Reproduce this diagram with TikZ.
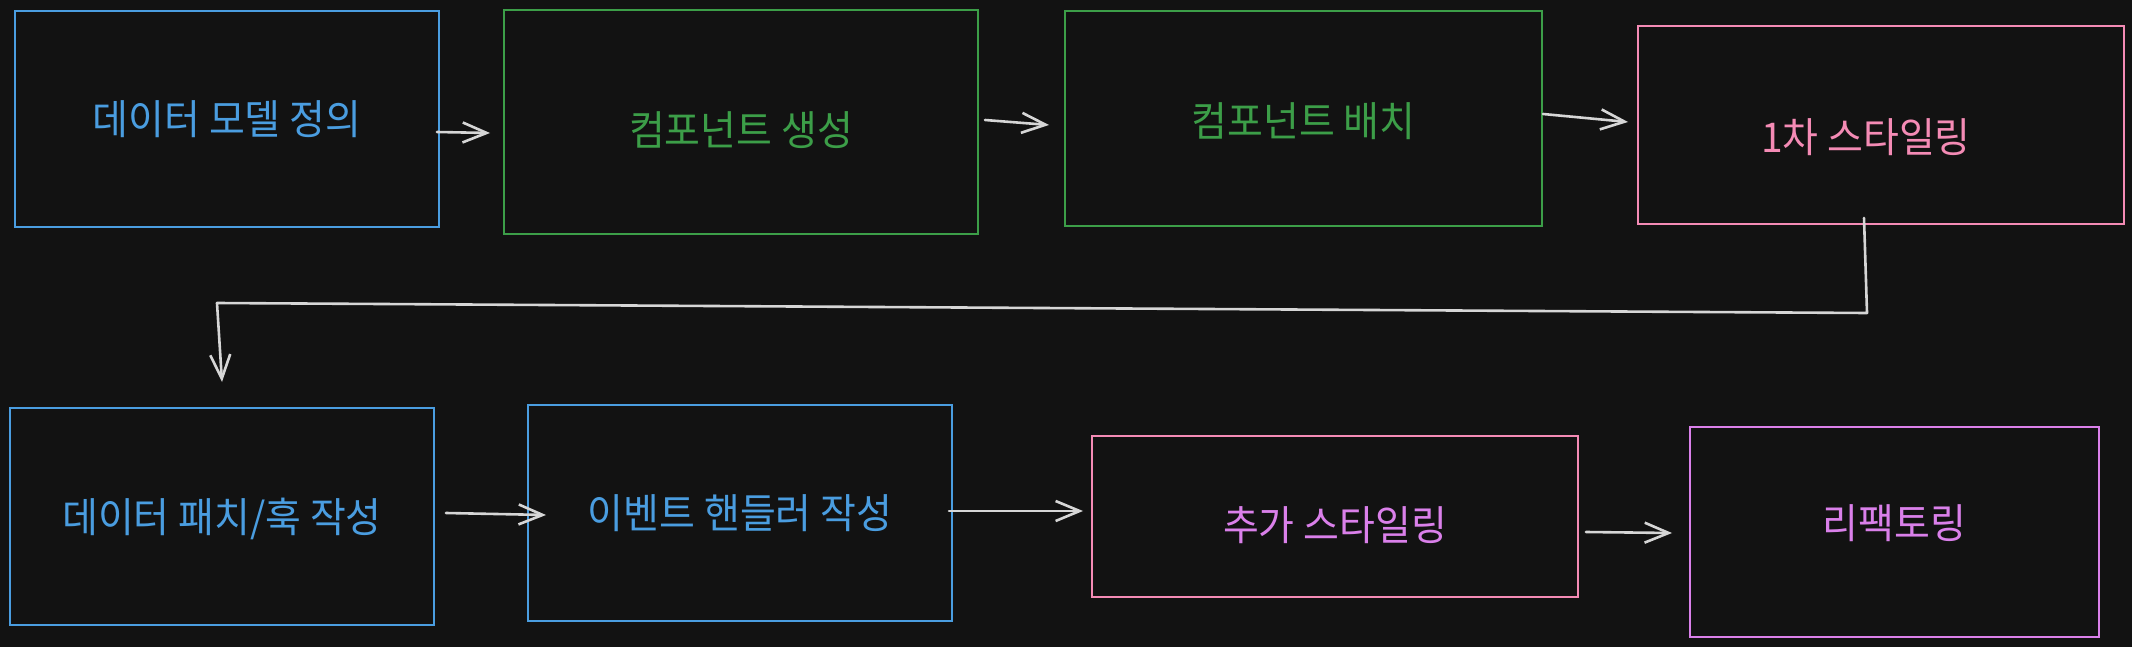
\documentclass[tikz,border=0pt]{standalone}
\usepackage{fontspec}
\setmainfont{Noto Sans CJK KR}[FakeStretch=0.95]
\usetikzlibrary{arrows.meta}
\definecolor{bg}{HTML}{121212}
\definecolor{blueline}{HTML}{4A9DE0}
\definecolor{greenline}{HTML}{3C9E48}
\definecolor{pinkline}{HTML}{F48BB5}
\definecolor{violetline}{HTML}{DA80EA}
\definecolor{arrowline}{HTML}{D6D6D6}
\tikzset{every node/.style={rectangle,align=center,draw,line width=2pt,inner sep=0pt,text height=36pt,text depth=5pt,font=\fontsize{41}{48}\selectfont}}
\tikzset{arr/.style={draw=arrowline,line width=2.6pt,line cap=round,line join=round,-{Straight Barb[length=24pt,width=20pt,line width=2.6pt]}}}
\tikzset{bl/.style={draw=blueline,text=blueline}}
\tikzset{gr/.style={draw=greenline,text=greenline}}
\tikzset{pk/.style={draw=pinkline,text=pinkline}}
\tikzset{vi/.style={draw=violetline,text=violetline}}
\begin{document}
\begin{tikzpicture}[x=1pt,y=-1pt]
\fill[bg] (0,0) rectangle (2132,647);
\useasboundingbox (0,0) rectangle (2132,647);
% first row
\node[bl,minimum width=424pt,minimum height=216pt] (model) at (227,119) {데이터 모델 정의};
\node[gr,text height=52pt,minimum width=474pt,minimum height=224pt] (create) at (741,122) {컴포넌트 생성};
\node[gr,text height=42pt,minimum width=477pt,minimum height=215pt] (place) at (1303.5,118.5) {컴포넌트 배치};
\node[pk,text height=60pt,minimum width=486pt,minimum height=198pt] (style1) at (1881,125) {\hspace*{-30pt}1차 스타일링};
% second row
\node[bl,minimum width=424pt,minimum height=217pt] (fetch) at (222,516.5) {데이터 패치/훅 작성};
\node[bl,minimum width=424pt,minimum height=216pt] (handler) at (740,513) {이벤트 핸들러 작성};
\node[pk,text=violetline,text height=52pt,minimum width=486pt,minimum height=161pt] (style2) at (1335,516.5) {추가 스타일링};
\node[vi,text height=18pt,minimum width=409pt,minimum height=210pt] (refactor) at (1894.5,532) {리팩토링};
\draw[arr] ([xshift=-3pt,yshift=-13pt]model.east) -- ([xshift=-13pt,yshift=-11pt]create.west);
\draw[arr] ([xshift=6pt,yshift=2pt]create.east) -- ([xshift=-15pt,yshift=-6.5pt]place.west);
\draw[arr] ([yshift=4.5pt]place.east) -- ([xshift=-9pt,yshift=3pt]style1.west);
\draw[arr] ([xshift=-17pt,yshift=7pt]style1.south) -- (1867,313) -- (217,303) -- ([yshift=25pt]fetch.north);
\draw[arr] ([xshift=11pt,yshift=3.5pt]fetch.east) -- ([xshift=19pt,yshift=-2pt]handler.west);
\draw[arr] ([xshift=-4pt,yshift=2pt]handler.east) -- ([xshift=-8pt,yshift=5.5pt]style2.west);
\draw[arr] ([xshift=7pt,yshift=-15.5pt]style2.east) -- ([xshift=-17pt,yshift=-1pt]refactor.west);
\end{tikzpicture}
\end{document}
